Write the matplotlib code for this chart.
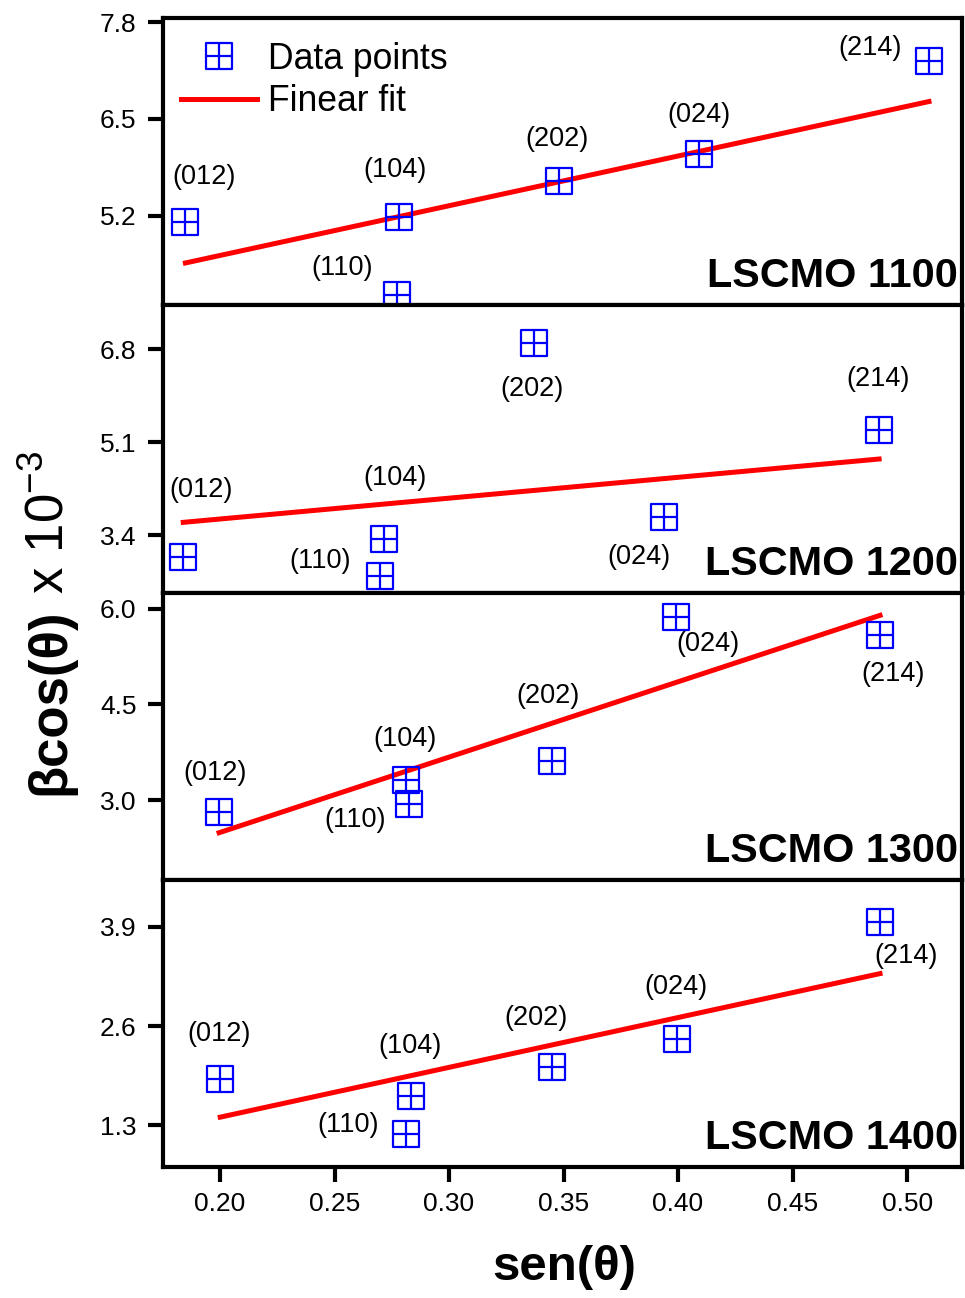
import numpy as np
import matplotlib
matplotlib.use("Agg")
from matplotlib import pyplot as plt
from matplotlib.path import Path
from matplotlib.text import Annotation

# ---------------------------------------------------------------------------------------------------
# Data
# ---------------------------------------------------------------------------------------------------
hkl = ["(012)", "(104)", "(110)", "(202)", "(024)", "(214)"]
samples = ["LSCMO 1100", "LSCMO 1200", "LSCMO 1300", "LSCMO 1400"]

sen_1100 = [0.2009, 0.2837, 0.2829, 0.3461, 0.4004, 0.4896]
bcos_1100 = [5.115, 5.177, 4.140, 5.669, 6.030, 7.277]
sen_1200 = [0.2001, 0.2834, 0.2817, 0.3456, 0.3996, 0.4888]
bcos_1200 = [3.010, 3.332, 2.656, 6.915, 3.734, 5.325]
sen_1300 = [0.1996, 0.2812, 0.2825, 0.3450, 0.3991, 0.4882]
bcos_1300 = [2.807, 3.313, 2.937, 3.610, 5.864, 5.582]
sen_1400 = [0.2001, 0.2834, 0.2812, 0.3450, 0.3996, 0.4882]
bcos_1400 = [1.913, 1.678, 1.181, 2.070, 2.436, 3.965]

# linear fit (slope, intercept) as drawn
fit_slope = [7.51, 4.01, 11.8, 6.52]
fit_intercept = [3.056, 2.835, 0.134, 0.103]

y_ticks = [[5.2, 6.5, 7.8], [3.4, 5.1, 6.8], [3.0, 4.5, 6.0], [1.3, 2.6, 3.9]]
x_ticks = [0.20, 0.25, 0.30, 0.35, 0.40, 0.45, 0.50]

# ---------------------------------------------------------------------------------------------------
# Layout
# ---------------------------------------------------------------------------------------------------
xlims = [(0.1922, 0.5026), (0.1917, 0.5234), (0.1751, 0.5242), (0.1751, 0.5242)]
ylims = [(4.0, 7.854), (2.345, 7.61), (1.748, 6.244), (0.755, 4.51)]
panel_bottoms = [0.765, 0.5431, 0.322, 0.1009]
panel_heights = [0.2211, 0.2219, 0.2211, 0.2211]

# label offsets in pixels (dx, dy with y down)
label_offsets = [
    [(19, -45), (-4, -47), (-54, -27), (-2, -42), (0, -39), (-59, -13)],
    [(18, -67), (11, -61), (-60, -15), (-2, 46), (-25, 40), (-1, -51)],
    [(-4, -39), (-1, -41), (-54, 16), (-4, -65), (32, 27), (13, 39)],
    [(-1, -45), (-1, -50), (-58, -9), (-16, -49), (-1, -52), (26, 34)],
]

plt.rcParams['font.family'] = ['Liberation Sans', 'DejaVu Sans']
plt.rcParams['mathtext.fontset'] = 'custom'
plt.rcParams['mathtext.rm'] = 'Liberation Sans'

# square with cross marker
box_marker = Path(
    [(-1, -1), (1, -1), (1, 1), (-1, 1), (-1, -1), (0, -1), (0, 1), (-1, 0), (1, 0)],
    [Path.MOVETO, Path.LINETO, Path.LINETO, Path.LINETO, Path.CLOSEPOLY,
     Path.MOVETO, Path.LINETO, Path.MOVETO, Path.LINETO])

sen_all = [sen_1100, sen_1200, sen_1300, sen_1400]
bcos_all = [bcos_1100, bcos_1200, bcos_1300, bcos_1400]

fig = plt.figure(figsize=(9.65, 12.98), dpi=100)

axes = []
for i in range(4):
    ax = fig.add_axes([0.1689, panel_bottoms[i], 0.8285, panel_heights[i]])
    axes.append(ax)
    x = np.array(sen_all[i])
    y = np.array(bcos_all[i])

    pts, = ax.plot(x, y, linestyle="none", marker=box_marker, markersize=18.5,
                   markerfacecolor="none", markeredgecolor="#0000ff", markeredgewidth=1.6,
                   label="Data points", zorder=3)
    xf = np.array([x.min(), x.max()])
    line, = ax.plot(xf, fit_slope[i] * xf + fit_intercept[i], color="#ff0000", lw=3.6,
                    label="Finear fit", zorder=2)

    for j, name in enumerate(hkl):
        dx, dy = label_offsets[i][j]
        ax.annotate(name, (x[j], y[j]), xytext=(dx, -dy), textcoords="offset pixels",
                    ha="center", va="center", fontsize=19.5)

    ax.text(0.994, 0.035, samples[i], transform=ax.transAxes, ha="right", va="bottom",
            fontsize=29.8, fontweight="bold")

    ax.set_xlim(*xlims[i])
    ax.set_ylim(*ylims[i])
    ax.set_xticks(x_ticks)
    ax.set_yticks(y_ticks[i])
    ax.tick_params(direction="out", length=11, width=3, labelsize=19, pad=8)
    ax.tick_params(axis="x", labelbottom=(i == 3), pad=7)
    for sp in ax.spines.values():
        sp.set_linewidth(3)

    if i == 0:
        ax.legend(handles=[pts, line], loc="upper left", bbox_to_anchor=(0.022, 0.917),
                  frameon=False, fontsize=25.6, handlelength=2.16, handletextpad=0.3,
                  labelspacing=0.21, borderpad=0, borderaxespad=0)

axes[3].set_xticklabels(["%.2f" % v for v in x_ticks])

# axis titles
fig.text(564 / 965, 1 - 1268 / 1298, "sen(θ)", ha="center", va="center",
         fontsize=35.5, fontweight="bold")
t1 = fig.text(64 / 965, 1 - 795 / 1298, "βcos(θ)", rotation=90, rotation_mode="anchor",
              ha="left", va="baseline", fontsize=38, fontweight="bold")
t2 = Annotation(" x 10$^{-3}$", xy=(64 / 965, 1.0), xycoords=("figure fraction", t1),
                rotation=90, rotation_mode="anchor", ha="left", va="baseline", fontsize=38)
fig.add_artist(t2)

fig.savefig("out.png", dpi=100)
